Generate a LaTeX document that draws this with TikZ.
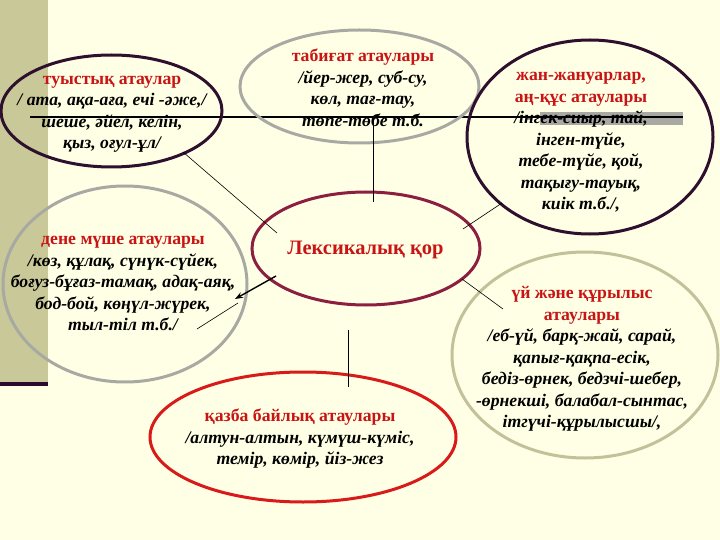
\documentclass[tikz,border=0pt]{standalone}
\usepackage{fontspec}
\setmainfont{Liberation Serif}
\usetikzlibrary{arrows.meta}
\definecolor{paper}{HTML}{FFFFE5}
\definecolor{band}{HTML}{C8C898}
\definecolor{bandline}{HTML}{2B0A2B}
\definecolor{title}{HTML}{C81414}
\definecolor{darkrim}{HTML}{2E0F2E}
\definecolor{lexrim}{HTML}{8C1F40}
\definecolor{orerim}{HTML}{D91A1A}
\definecolor{greyrim}{HTML}{A9A9A4}
\definecolor{khakirim}{HTML}{C2C29A}
\begin{document}
\begin{tikzpicture}[x=1pt,y=-1pt,
  rim/.style={line width=3pt},
  words/.style={align=center,font=\fontsize{17.7}{21.5}\selectfont\bfseries},
  head/.style={text=title},
  link/.style={black,line width=0.6pt}]
\useasboundingbox (0,0) rectangle (720,540);
\fill[paper] (0,0) rectangle (720,540);
\fill[band] (0,0) rectangle (48,382);
\fill[bandline] (0,382) rectangle (48,386);
\fill[greyrim] (540,112) rectangle (683,125);
\draw[line width=2pt] (30,117) -- (683,117);

\draw[rim,darkrim] (111.5,111) ellipse [x radius=110.5pt, y radius=56pt];
\draw[rim,greyrim] (359.5,86.5) ellipse [x radius=119.5pt, y radius=56.5pt];
\draw[rim,darkrim] (590,137) ellipse [x radius=123pt, y radius=97pt];
\draw[rim,greyrim] (125,284) ellipse [x radius=122pt, y radius=98pt];
\draw[rim,lexrim] (366,248.5) ellipse [x radius=114pt, y radius=56.5pt];
\draw[rim,khakirim] (585,355) ellipse [x radius=133pt, y radius=103pt];
\draw[rim,orerim] (303,437) ellipse [x radius=153pt, y radius=65pt];

\node[words] (kin) at (112,114) {\textcolor{title}{туыстық атаулар}\\ \itshape / ата, ақа-аға, ечі -әже,/\\ \itshape шеше, әйел, келін,\\ \itshape қыз, оғул-ұл/};
\node[words] (nature) at (363,88) {\textcolor{title}{табиғат атаулары}\\ \itshape /йер-жер, суб-су,\\ \itshape көл, тағ-тау,\\ \itshape төпе-төбе т.б.};
\node[words] (fauna) at (581,142.5) {\textcolor{title}{жан-жануарлар,}\\ \textcolor{title}{аң-құс атаулары}\\ \itshape /інгек-сиыр, тай,\\ \itshape інген-түйе,\\ \itshape тебе-түйе, қой,\\ \itshape тақығу-тауық,\\ \itshape киік т.б./,};
\node[words] (body) at (123,283.5) {\textcolor{title}{дене мүше атаулары}\\ \itshape /көз, құлақ, сүнүк-сүйек,\\ \itshape боғуз-бұғаз-тамақ, адақ-аяқ,\\ \itshape бод-бой, көңүл-жүрек,\\ \itshape тыл-тіл т.б./};
\node[words,text=title,font=\fontsize{20.5}{25}\selectfont\bfseries] (lex) at (365.5,250) {Лексикалық қор};
\node[words] (house) at (582,359) {\textcolor{title}{үй және құрылыс}\\ \textcolor{title}{атаулары}\\ \itshape /еб-үй, барқ-жай, сарай,\\ \itshape қапығ-қақпа-есік,\\ \itshape бедіз-өрнек, бедзчі-шебер,\\ \itshape -өрнекші, балабал-сынтас,\\ \itshape ітгүчі-құрылысшы/,};
\node[words] (mineral) at (300,439) {\textcolor{title}{қазба байлық атаулары}\\ \itshape /алтун-алтын, күмүш-күміс,\\ \itshape темір, көмір, йіз-жез};

\coordinate (kinend) at (183,152);
\coordinate (lexnw) at (277,233);
\coordinate (lexsw) at (276,276);
\coordinate (bodyin) at (235,299);
\coordinate (bodya) at (238,303);
\coordinate (bodyb) at (197,329);
\coordinate (naturebase) at (373,117);
\coordinate (lexn) at (373,202);
\coordinate (lexne) at (463,229);
\coordinate (faunaend) at (502,203);
\coordinate (lexse) at (462,279);
\coordinate (houseend) at (503,309);
\coordinate (lexs) at (348,330);
\coordinate (mineraltop) at (348,387);

\draw[link] (kinend) -- (lexnw);
\draw[line width=1.4pt,-{Stealth[length=8pt,width=6pt]}] (lexsw) -- (bodyin);
\draw[link] (bodya) -- (bodyb);
\draw[line width=1pt] (naturebase) -- (lexn);
\draw[link] (lexne) -- (faunaend);
\draw[link] (lexse) -- (houseend);
\draw[line width=1pt] (lexs) -- (mineraltop);
\end{tikzpicture}
\end{document}
